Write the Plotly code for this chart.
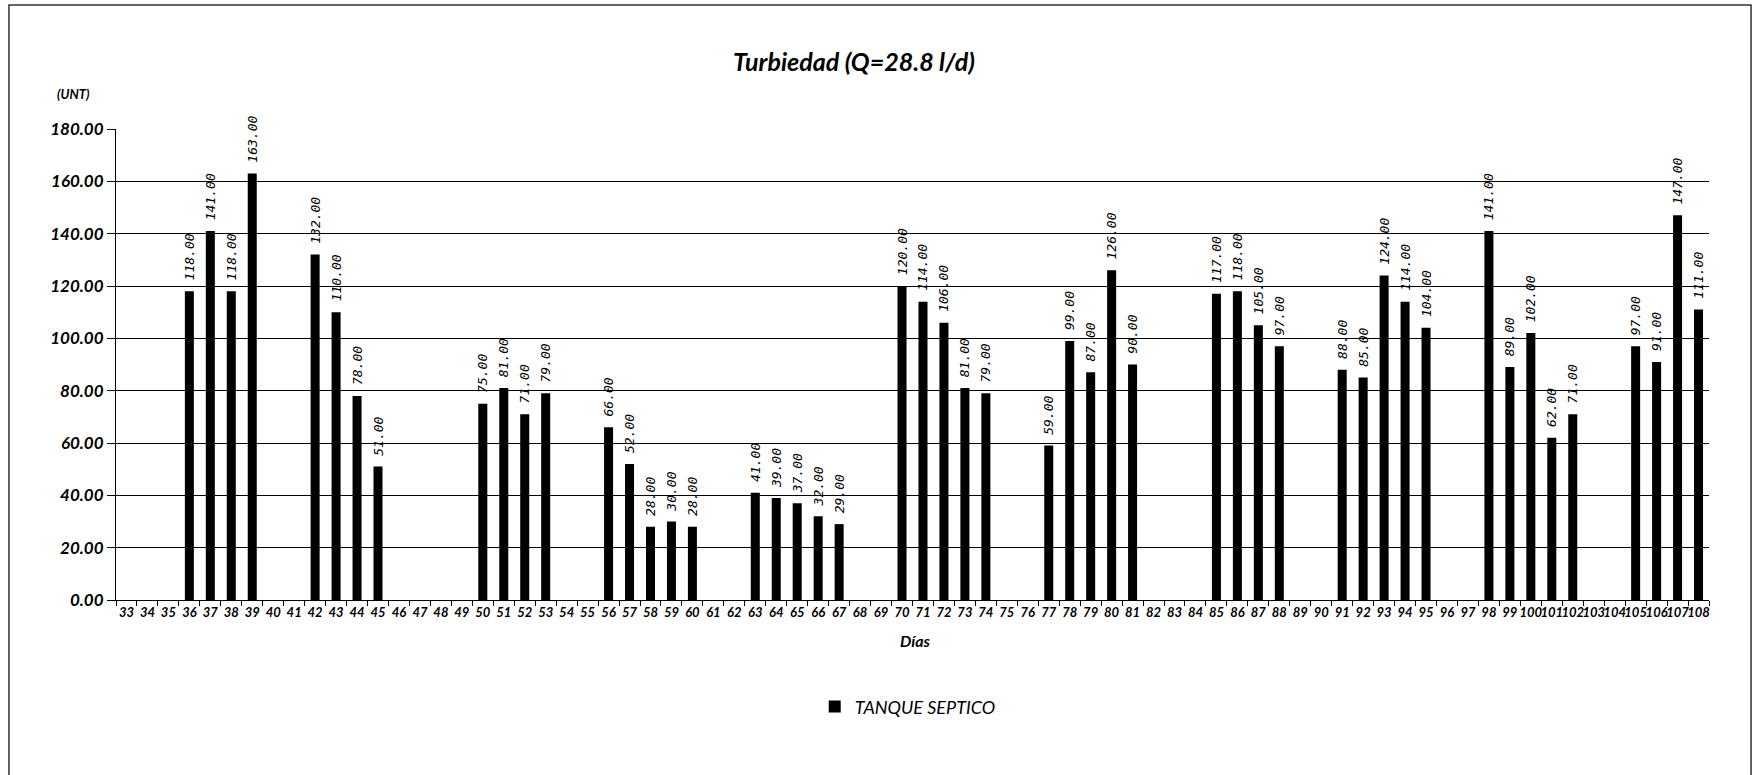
import plotly.graph_objects as go

# Days with measurements and turbidity readings (UNT)
dias = list(range(33, 109))
medidos = [36, 37, 38, 39, 42, 43, 44, 45, 50, 51, 52, 53, 56, 57, 58, 59, 60,
           63, 64, 65, 66, 67, 70, 71, 72, 73, 74, 77, 78, 79, 80, 81,
           85, 86, 87, 88, 91, 92, 93, 94, 95, 98, 99, 100, 101, 102,
           105, 106, 107, 108]
turbiedad = [118, 141, 118, 163, 132, 110, 78, 51, 75, 81, 71, 79, 66, 52, 28, 30, 28,
             41, 39, 37, 32, 29, 120, 114, 106, 81, 79, 59, 99, 87, 126, 90,
             117, 118, 105, 97, 88, 85, 124, 114, 104, 141, 89, 102, 62, 71,
             97, 91, 147, 111]
y_ticks = [0, 20, 40, 60, 80, 100, 120, 140, 160, 180]

categorias = [str(d) for d in dias]
x_bar = [str(d) for d in medidos]

FONT = "Lato"

fig = go.Figure()
fig.add_trace(go.Bar(
    x=x_bar,
    y=turbiedad,
    name="TANQUE SEPTICO",
    marker=dict(color="black", line=dict(width=0)),
    width=0.43,
    # leading non-breaking space keeps the rotated value clear of the bar top
    texttemplate="\u00a0%{y:.2f}",
    textposition="outside",
    textangle=-90,
    constraintext="none",
    cliponaxis=False,
    textfont=dict(family="DejaVu Sans Mono", size=13, color="black", style="italic"),
))

fig.update_layout(
    width=1755,
    height=775,
    paper_bgcolor="white",
    plot_bgcolor="white",
    margin=dict(l=116, r=46, t=129, b=175),
    title=dict(
        text="<b><i>Turbiedad (Q=28.8 l/d)</i></b>",
        x=854 / 1755, xanchor="center",
        y=1 - 62 / 775, yanchor="middle",
        font=dict(family=FONT, size=25, color="black"),
    ),
    showlegend=True,
    legend=dict(
        orientation="h",
        x=0.497, xanchor="center",
        y=-0.227, yanchor="middle",
        font=dict(family=FONT, size=18, color="black", style="italic"),
    ),
    xaxis=dict(
        type="category",
        categoryorder="array",
        categoryarray=categorias,
        tickmode="array",
        tickvals=categorias,
        ticktext=categorias,
        tickangle=0,
        tickson="boundaries",
        ticks="outside",
        ticklen=5,
        tickcolor="black",
        showgrid=False,
        showline=True,
        linecolor="black",
        linewidth=1,
        range=[-0.5, len(categorias) - 0.5],
        tickfont=dict(family=FONT, size=13, color="black", weight="bold", style="italic"),
    ),
    yaxis=dict(
        range=[0, 180],
        tickmode="array",
        tickvals=y_ticks,
        ticktext=[f"{v:.2f}" for v in y_ticks],
        ticks="outside",
        ticklen=8,
        tickcolor="black",
        showgrid=True,
        gridcolor="black",
        gridwidth=1,
        showline=True,
        linecolor="black",
        linewidth=1,
        zeroline=False,
        tickfont=dict(family=FONT, size=17, color="black", weight="bold", style="italic"),
    ),
)

# Axis captions
fig.add_annotation(
    text="<b><i>(UNT)</i></b>", xref="paper", yref="paper",
    x=-0.0151, y=1.0743, xanchor="right", yanchor="middle", showarrow=False,
    font=dict(family=FONT, size=13, color="black"),
)
fig.add_annotation(
    text="<b><i>Días</i></b>", xref="paper", yref="paper",
    x=0.5016, y=-0.087, xanchor="center", yanchor="middle", showarrow=False,
    font=dict(family=FONT, size=16, color="black"),
)

# Chart frame
fig.add_shape(
    type="rect", xref="paper", yref="paper",
    x0=-0.0672, x1=1.0264, y0=-0.45, y1=1.2633,
    line=dict(color="#333333", width=1.5), fillcolor="rgba(0,0,0,0)", layer="below",
)

fig.write_html("out.html")
